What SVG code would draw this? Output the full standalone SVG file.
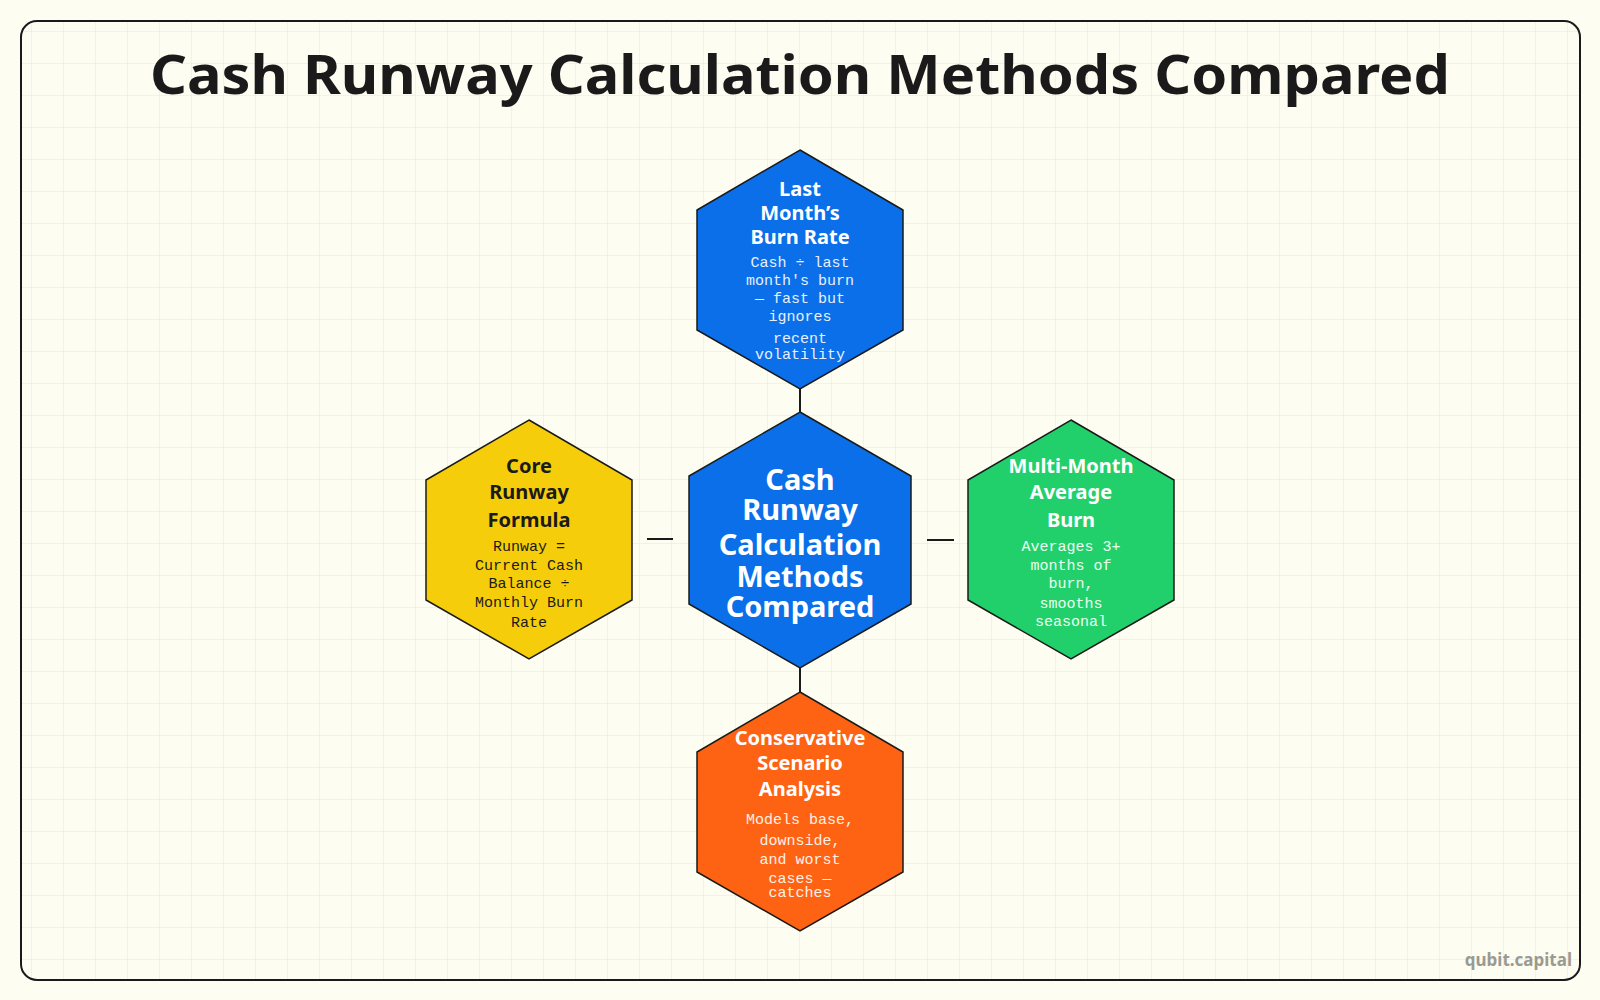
<svg xmlns="http://www.w3.org/2000/svg" width="1600" height="1000" viewBox="0 0 1600 1000">
<defs>
<pattern id="grid" width="32" height="32" patternUnits="userSpaceOnUse"><path d="M32 0V32M0 32H32" fill="none" stroke="#e9e7dc" stroke-width="1"/></pattern>
<style>
.t{font-family:"Noto Sans",Lato,sans-serif;font-weight:700;text-anchor:middle;dominant-baseline:central}
.b{font-family:"Liberation Mono","DejaVu Sans Mono",monospace;font-size:15px;text-anchor:middle;dominant-baseline:central}
.hex{stroke:#1a1a1a;stroke-width:1.5}
.c{stroke:#1a1a1a;stroke-width:2;fill:none}
</style>
</defs>
<rect width="1600" height="1000" fill="#fefdf1"/>
<rect x="21" y="21" width="1559" height="959" rx="16" fill="url(#grid)" stroke="#1a1a1a" stroke-width="2"/>
<text x="800" y="73" class="t" font-size="54" fill="#1a1a1a" textLength="1300" lengthAdjust="spacingAndGlyphs">Cash Runway Calculation Methods Compared</text>
<g id="connectors">
<line class="c" x1="800" y1="389" x2="800" y2="412"/>
<line class="c" x1="800" y1="668" x2="800" y2="692"/>
<line class="c" x1="647" y1="539" x2="673" y2="539"/>
<line class="c" x1="927" y1="540" x2="954" y2="540"/>
</g>
<g id="top">
<polygon class="hex" fill="#0a6fe8" points="800,150 903,210 903,330 800,389 697,330 697,210"/>
<g fill="#fff"><text class="t" font-size="20" x="800" y="188">Last</text><text class="t" font-size="20" x="800" y="212">Month’s</text><text class="t" font-size="20" x="800" y="236">Burn Rate</text></g>
<g fill="#e6f0ff"><text class="b" x="800" y="263">Cash ÷ last</text><text class="b" x="800" y="281">month's burn</text><text class="b" x="800" y="299">— fast but</text><text class="b" x="800" y="317">ignores</text><text class="b" x="800" y="339">recent</text><text class="b" x="800" y="355">volatility</text></g>
</g>
<g id="center">
<polygon class="hex" fill="#0a6fe8" points="800,412 911,476 911,604 800,668 689,604 689,476"/>
<g fill="#fff"><text class="t" font-size="29" x="800" y="478">Cash</text><text class="t" font-size="29" x="800" y="508">Runway</text><text class="t" font-size="29" x="800" y="543">Calculation</text><text class="t" font-size="29" x="800" y="575">Methods</text><text class="t" font-size="29" x="800" y="605">Compared</text></g>
</g>
<g id="left">
<polygon class="hex" fill="#f6cd0a" points="529,420 632,480 632,600 529,659 426,600 426,480"/>
<g fill="#1a1a1a"><text class="t" font-size="20" x="529" y="465">Core</text><text class="t" font-size="20" x="529" y="491">Runway</text><text class="t" font-size="20" x="529" y="519">Formula</text>
<text class="b" x="529" y="547">Runway =</text><text class="b" x="529" y="566">Current Cash</text><text class="b" x="529" y="584">Balance ÷</text><text class="b" x="529" y="603">Monthly Burn</text><text class="b" x="529" y="623">Rate</text></g>
</g>
<g id="right">
<polygon class="hex" fill="#22d06b" points="1071,420 1174,480 1174,600 1071,659 968,600 968,480"/>
<g fill="#fff"><text class="t" font-size="20" x="1071" y="465">Multi-Month</text><text class="t" font-size="20" x="1071" y="491">Average</text><text class="t" font-size="20" x="1071" y="519">Burn</text></g>
<g fill="#eafff2"><text class="b" x="1071" y="547">Averages 3+</text><text class="b" x="1071" y="566">months of</text><text class="b" x="1071" y="584">burn,</text><text class="b" x="1071" y="604">smooths</text><text class="b" x="1071" y="622">seasonal</text></g>
</g>
<g id="bottom">
<polygon class="hex" fill="#fe6314" points="800,692 903,752 903,872 800,931 697,872 697,752"/>
<g fill="#fff"><text class="t" font-size="20" x="800" y="737">Conservative</text><text class="t" font-size="20" x="800" y="762">Scenario</text><text class="t" font-size="20" x="800" y="788">Analysis</text></g>
<g fill="#fff0e6"><text class="b" x="800" y="820">Models base,</text><text class="b" x="800" y="841">downside,</text><text class="b" x="800" y="860">and worst</text><text class="b" x="800" y="879">cases —</text><text class="b" x="800" y="893">catches</text></g>
</g>
<text x="1572" y="966" font-family="'Noto Sans',sans-serif" font-weight="700" font-size="17" fill="#9a9a92" text-anchor="end">qubit.capital</text>
</svg>
